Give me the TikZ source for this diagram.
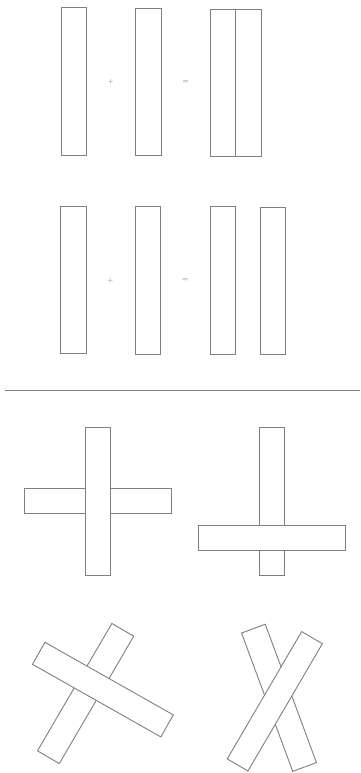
\documentclass[tikz,border=0pt]{standalone}
\begin{document}
\begin{tikzpicture}[x=1pt,y=-1pt]
\definecolor{linegray}{RGB}{135,125,125}
\tikzset{
  bar/.style={draw=linegray, line width=0.9pt, fill=white, rectangle, inner sep=0pt,
    minimum width=25.3pt, minimum height=147.5pt},
  hbar/.style={bar, minimum width=147.5pt, minimum height=25.3pt},
  sign/.style={text=linegray!90!black, font=\fontsize{7.5}{8}\selectfont, inner sep=0pt}
}
\useasboundingbox (0,0) rectangle (360,773);
% row 1
\node[bar] (a1) at (73.7,81.5) {};
\node[sign] (p1) at (111,82) {+};
\node[bar] (a2) at (148.3,82) {};
\node[sign] (e1) at (185.7,82.5) {=};
\node[bar] (a3) at (223.5,82.8) {};
\node[bar] (a4) at (248.3,82.8) {};
% row 2
\node[bar] (b1) at (73.3,279.8) {};
\node[sign] (p2) at (110.3,280.5) {+};
\node[bar] (b2) at (148.2,280.2) {};
\node[sign] (e2) at (185.3,280) {=};
\node[bar] (b3) at (223,280.5) {};
\node[bar] (b4) at (272.8,280.8) {};
% divider
\coordinate (l1) at (5,390.7);
\coordinate (l2) at (360,390.7);
\draw[linegray, line width=0.9pt] (l1) -- (l2);
% cross 1: vertical on top
\node[hbar] (c1h) at (97.7,500.8) {};
\node[bar] (c1v) at (97.8,501.3) {};
% cross 2: horizontal on top
\node[bar] (c2v) at (272.2,501.3) {};
\node[hbar] (c2h) at (271.8,538) {};
% X 1: long down-right bar on top
\node[hbar, rotate=59.7] (x1b) at (85.6,693.5) {};
\node[hbar, rotate=-29.5] (x1f) at (102.9,689.6) {};
% X 2: up-right bar on top
\node[hbar, rotate=-69.7] (x2b) at (279,697.8) {};
\node[hbar, rotate=59.7, minimum height=24pt] (x2f) at (274.8,701.3) {};
\end{tikzpicture}
\end{document}
